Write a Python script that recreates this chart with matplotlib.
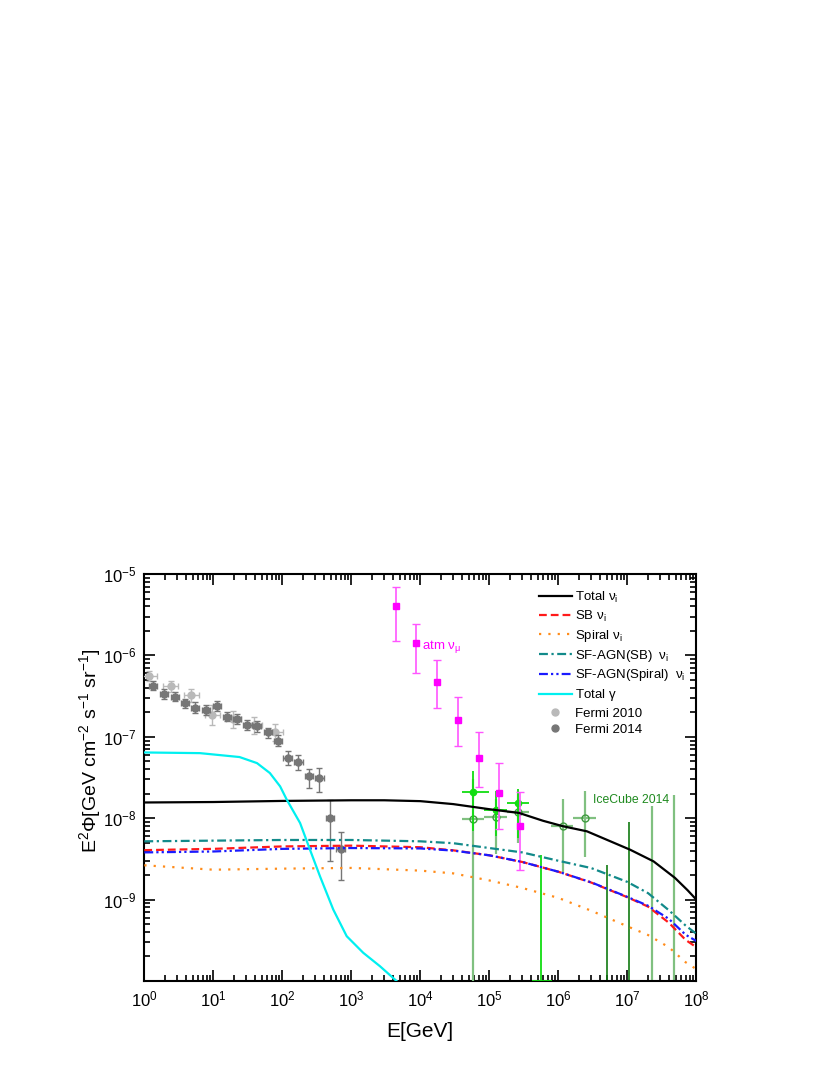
import matplotlib
matplotlib.use("Agg")
import matplotlib.pyplot as plt
from matplotlib.ticker import LogLocator, FixedLocator, NullFormatter

plt.rcParams['font.family'] = ['Liberation Sans', 'DejaVu Sans']
plt.rcParams['mathtext.fontset'] = 'custom'
plt.rcParams['mathtext.rm'] = 'Liberation Sans'
plt.rcParams['mathtext.it'] = 'Liberation Sans:italic'
plt.rcParams['mathtext.bf'] = 'Liberation Sans:bold'

## Model curves (E in GeV, E^2 Phi in GeV cm^-2 s^-1 sr^-1)
E_tot = [1, 10, 100, 1e3, 3e3, 1e4, 3e4, 1e5, 2.7e5, 6e5, 1.18e6, 2.6e6, 5e6, 1.1e7,
         2.4e7, 4.9e7, 7.5e7, 1e8]
total_nu = [1.56e-8, 1.58e-8, 1.63e-8, 1.66e-8, 1.66e-8, 1.62e-8, 1.49e-8, 1.29e-8,
            1.16e-8, 9.3e-9, 7.95e-9, 6.9e-9, 5.45e-9, 4.1e-9, 2.95e-9, 1.85e-9,
            1.3e-9, 1.0e-9]

E_nu = [1, 10, 100, 1e3, 1e4, 3e4, 1e5, 3e5, 1e6, 3e6, 1e7, 2e7, 4e7, 7e7, 1e8]
sb_nu = [4.05e-9, 4.2e-9, 4.5e-9, 4.6e-9, 4.4e-9, 4.03e-9, 3.5e-9, 2.9e-9,
         2.2e-9, 1.62e-9, 1.07e-9, 8.2e-10, 5.2e-10, 3.2e-10, 2.6e-10]
spiral_nu = [2.64e-9, 2.33e-9, 2.4e-9, 2.45e-9, 2.27e-9, 2.1e-9, 1.72e-9, 1.39e-9,
             1.05e-9, 7.3e-10, 4.7e-10, 3.67e-10, 2.6e-10, 1.7e-10, 1.4e-10]
agn_sb_nu = [5.2e-9, 5.3e-9, 5.4e-9, 5.4e-9, 5.2e-9, 4.93e-9, 4.3e-9, 3.8e-9,
             3.0e-9, 2.44e-9, 1.65e-9, 1.2e-9, 7.4e-10, 4.8e-10, 3.8e-10]
agn_spiral_nu = [3.8e-9, 3.9e-9, 4.2e-9, 4.3e-9, 4.25e-9, 4.0e-9, 3.5e-9, 2.9e-9,
                 2.2e-9, 1.63e-9, 1.08e-9, 8.4e-10, 5.8e-10, 3.7e-10, 3.1e-10]

E_gam = [1, 6.4, 24, 43, 66, 93, 116, 181, 252, 352, 548, 858, 1490, 2600, 4300, 6000]
total_gam = [6.42e-8, 6.3e-8, 5.64e-8, 4.75e-8, 3.59e-8, 2.46e-8, 1.69e-8, 8.73e-9,
             4.1e-9, 1.93e-9, 7.54e-10, 3.55e-10, 2.22e-10, 1.52e-10, 1.04e-10, 8e-11]

## Fermi data
f10_E = [1.17, 2.41, 4.83, 9.73, 19.6, 39.5, 78.4]
f10_Elo = [0.9, 1.85, 3.72, 7.48, 15.1, 30.4, 60.3]
f10_Ehi = [1.52, 3.13, 6.28, 12.6, 25.5, 51.4, 102]
f10_y = [5.65e-7, 4.17e-7, 3.28e-7, 1.86e-7, 1.65e-7, 1.38e-7, 1.15e-7]
f10_ylo = [4.9e-7, 3.6e-7, 2.7e-7, 1.4e-7, 1.3e-7, 1.08e-7, 9.0e-8]
f10_yhi = [6.5e-7, 4.8e-7, 3.9e-7, 2.45e-7, 2.1e-7, 1.75e-7, 1.45e-7]

f14_E = [1.35, 1.93, 2.76, 3.89, 5.48, 7.84, 11.2, 15.6, 21.8, 31.1, 43.4, 61.4,
         85.8, 120, 171, 241, 344, 491, 702]
f14_Elo = [1.17, 1.68, 2.4, 3.38, 4.77, 6.82, 9.74, 13.6, 19.0, 27.0, 37.7, 53.4,
           74.6, 104, 149, 210, 299, 427, 610]
f14_Ehi = [1.55, 2.22, 3.17, 4.47, 6.3, 9.02, 12.9, 17.9, 25.1, 35.8, 49.9, 70.6,
           98.7, 138, 197, 277, 396, 565, 807]
f14_y = [4.26e-7, 3.37e-7, 3.12e-7, 2.59e-7, 2.29e-7, 2.14e-7, 2.40e-7, 1.77e-7,
         1.65e-7, 1.39e-7, 1.34e-7, 1.13e-7, 9.0e-8, 5.48e-8, 4.93e-8, 3.32e-8,
         3.14e-8, 1.0e-8, 4.22e-9]
f14_ylo = [3.8e-7, 2.95e-7, 2.75e-7, 2.28e-7, 1.98e-7, 1.85e-7, 2.1e-7, 1.55e-7,
           1.43e-7, 1.2e-7, 1.15e-7, 9.7e-8, 7.7e-8, 4.5e-8, 3.9e-8, 2.35e-8,
           2.1e-8, 2.95e-9, 1.73e-9]
f14_yhi = [4.8e-7, 3.85e-7, 3.55e-7, 2.95e-7, 2.65e-7, 2.48e-7, 2.75e-7, 2.02e-7,
           1.9e-7, 1.6e-7, 1.55e-7, 1.3e-7, 1.04e-7, 6.6e-8, 6.0e-8, 4.0e-8,
           4.13e-8, 1.69e-8, 6.77e-9]

## atmospheric numu
atm_E = [4.4e3, 8.8e3, 1.75e4, 3.5e4, 7e4, 1.4e5, 2.8e5]
atm_y = [4.08e-6, 1.44e-6, 4.77e-7, 1.63e-7, 5.53e-8, 2.04e-8, 8.09e-9]
atm_ylo = [1.51e-6, 6.04e-7, 2.25e-7, 7.76e-8, 2.39e-8, 7.43e-9, 2.29e-9]
atm_yhi = [6.98e-6, 2.44e-6, 8.8e-7, 3.12e-7, 1.16e-7, 4.75e-8, 2.07e-8]

## IceCube 2014
ic_E = [5.9e4, 1.25e5, 2.63e5]
ic_Elo = [4.0e4, 8.5e4, 1.78e5]
ic_Ehi = [1.0e5, 1.78e5, 3.7e5]
ic_y = [2.1e-8, 1.27e-8, 1.53e-8]
ic_ylo = [7.0e-9, 6.0e-9, 5.7e-9]
ic_yhi = [3.75e-8, 2.16e-8, 2.27e-8]
# bin with no events, drawn on the lower edge
ic0_E = [5.6e5]
ic0_Elo = [4.15e5]
ic0_Ehi = [8.1e5]
ic0_y = [1.0e-10]
ic0_top = [3.57e-9]

ic2_E = [5.86e4, 1.25e5, 2.63e5, 1.16e6, 2.44e6]
ic2_Elo = [3.97e4, 8.5e4, 1.78e5, 7.9e5, 1.64e6]
ic2_Ehi = [8.5e4, 1.78e5, 3.7e5, 1.64e6, 3.5e6]
ic2_y = [9.86e-9, 1.03e-8, 1.19e-8, 7.94e-9, 1.0e-8]
ic2_ylo = [1e-11, 3.6e-9, 5.0e-9, 2.14e-9, 3.3e-9]
ic2_yhi = [3.0e-8, 1.7e-8, 2.0e-8, 1.73e-8, 2.15e-8]

ic2_lim_E = [2.3e7, 4.75e7]
ic2_lim_top = [1.4e-8, 1.94e-8]
ic3_lim_E = [5.13e6, 1.07e7]
ic3_lim_top = [2.69e-9, 9.1e-9]


def err(c, lo, hi):
    return [[a - b for a, b in zip(c, lo)], [b - a for a, b in zip(c, hi)]]


fig = plt.figure(figsize=(8.3, 10.75), dpi=100)
ax = fig.add_axes([144.3 / 830, 1 - 981 / 1075, 552 / 830, 407 / 1075])
ax.set_xscale('log')
ax.set_yscale('log')

# data
ax.errorbar(f10_E, f10_y, xerr=err(f10_E, f10_Elo, f10_Ehi), yerr=err(f10_y, f10_ylo, f10_yhi),
            fmt='o', color='#b9b9b9', ms=5, elinewidth=1, capsize=2.5, capthick=1, zorder=3)
ax.errorbar(f14_E, f14_y, xerr=err(f14_E, f14_Elo, f14_Ehi), yerr=err(f14_y, f14_ylo, f14_yhi),
            fmt='o', color='#767676', ms=5, elinewidth=1, capsize=2.5, capthick=1, zorder=4)
ax.errorbar(atm_E, atm_y, yerr=err(atm_y, atm_ylo, atm_yhi), fmt='s', color='#ff00ff',
            ecolor='#ff55ff', ms=4.5, elinewidth=1.2, capsize=3, capthick=1, zorder=5)

ax.vlines(ic3_lim_E, 1e-11, ic3_lim_top, color='#127a12', lw=1.2, zorder=2)
ax.vlines(ic2_lim_E, 1e-11, ic2_lim_top, color='#80c080', lw=1.6, zorder=2)
ax.errorbar(ic2_E, ic2_y, xerr=err(ic2_E, ic2_Elo, ic2_Ehi), yerr=err(ic2_y, ic2_ylo, ic2_yhi),
            fmt='o', mfc='none', mec='#3f9a3f', ecolor='#80c080', ms=5, mew=1,
            elinewidth=1.6, zorder=3)
ax.errorbar(ic_E, ic_y, xerr=err(ic_E, ic_Elo, ic_Ehi), yerr=err(ic_y, ic_ylo, ic_yhi),
            fmt='o', color='#11dd11', ms=4.5, elinewidth=1.3, zorder=4)
ax.errorbar(ic0_E, ic0_y, xerr=err(ic0_E, ic0_Elo, ic0_Ehi), yerr=err(ic0_y, ic0_y, ic0_top),
            fmt='none', ecolor='#11dd11', elinewidth=1.3, zorder=4)

# model curves
ax.plot(E_tot, total_nu, color='black', lw=1.6, label=r'Total $\mathregular{\nu_i}$', zorder=6)
ax.plot(E_nu, sb_nu, color='#ff1a1a', lw=1.6, ls=(0, (3.5, 1.8)),
        label=r'SB $\mathregular{\nu_i}$', zorder=6)
ax.plot(E_nu, spiral_nu, color='#ff8c1a', lw=1.6, ls=(0, (1, 3.2)),
        label=r'Spiral $\mathregular{\nu_i}$', zorder=6)
ax.plot(E_nu, agn_sb_nu, color='#128a8a', lw=1.6, ls=(0, (4, 1.6, 1, 1.6)),
        label=r'SF-AGN(SB)  $\mathregular{\nu_i}$', zorder=6)
ax.plot(E_nu, agn_spiral_nu, color='#1a1aff', lw=1.6, ls=(0, (4, 1.4, 1, 1.4, 1, 1.4)),
        label=r'SF-AGN(Spiral)  $\mathregular{\nu_i}$', zorder=6)
ax.plot(E_gam, total_gam, color='#00f0f0', lw=1.6, label=r'Total $\mathregular{\gamma}$', zorder=6)
ax.plot([], [], 'o', color='#b9b9b9', ms=5, label='Fermi 2010')
ax.plot([], [], 'o', color='#767676', ms=5, label='Fermi 2014')

ax.text(1.05e4, 1.3e-6, r'atm $\mathregular{\nu_\mu}$', color='#ff00ff', fontsize=9.5,
        va='center', ha='left')
ax.text(3.15e6, 1.65e-8, 'IceCube 2014', color='#1f8a1f', fontsize=8.8, va='center', ha='left')

ax.set_xlim(1, 1e8)
ax.set_ylim(1e-10, 1e-5)
ax.xaxis.set_major_locator(LogLocator(base=10, numticks=20))
ax.yaxis.set_major_locator(FixedLocator([1e-9, 1e-8, 1e-7, 1e-6, 1e-5]))
for a in (ax.xaxis, ax.yaxis):
    a.set_minor_locator(LogLocator(base=10, subs=range(2, 10), numticks=100))
    a.set_minor_formatter(NullFormatter())
ax.tick_params(which='both', direction='in', top=True, right=True, width=1.2)
ax.tick_params(which='major', length=8, labelsize=12, pad=6)
ax.tick_params(which='minor', length=4)
for s in ax.spines.values():
    s.set_linewidth(1.5)

ax.set_xlabel('E[GeV]', fontsize=15)
ax.set_ylabel(r'E$^\mathregular{2}\mathregular{\Phi}$[GeV cm$^\mathregular{-2}$ s$^\mathregular{-1}$ sr$^\mathregular{-1}$]',
              fontsize=14)
ax.xaxis.set_label_coords(0.5, -0.1)
ax.yaxis.set_label_coords(-0.075, 0.565)

leg = ax.legend(loc='upper left', bbox_to_anchor=(0.715, 0.962), frameon=False, fontsize=9.5,
                handlelength=2.5, handletextpad=0.2, labelspacing=0.3, borderaxespad=0,
                borderpad=0)

fig.savefig('out.png', dpi=100)
